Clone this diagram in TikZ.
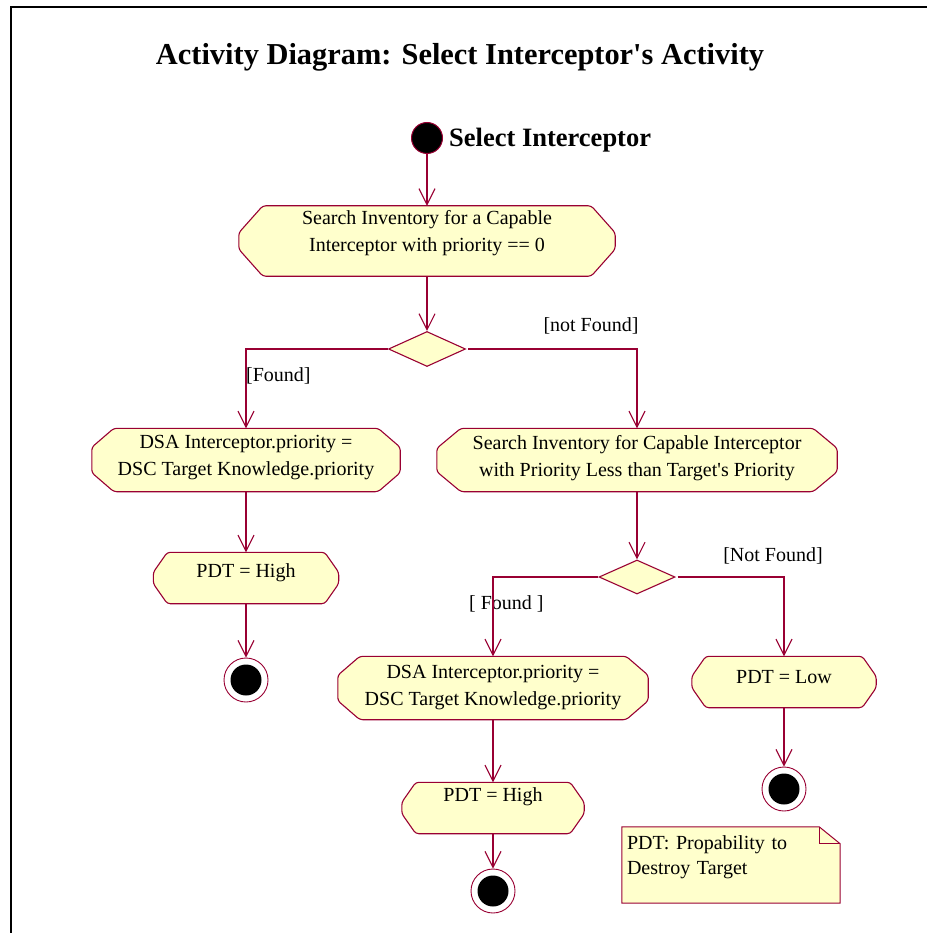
\documentclass[tikz,border=0pt]{standalone}
\usepackage{fontspec}
\setmainfont{Liberation Serif}
\usetikzlibrary{arrows.meta,shapes.geometric,backgrounds,calc}
\definecolor{umlred}{RGB}{153,0,51}
\definecolor{umlfill}{RGB}{255,255,204}

\tikzset{
  flow/.style={draw=umlred,line width=1.1pt,-{Straight Barb[length=16pt,width=16pt]}},
  actline/.style={draw=umlred,fill=umlfill,line width=1.1pt,rounded corners=3pt},
  actbox/.style={rectangle,draw=none,inner sep=0pt,align=center,
    font=\fontsize{20}{27}\selectfont},
  decision/.style={diamond,draw=umlred,fill=umlfill,line width=1.1pt,
    minimum width=77pt,minimum height=35pt,inner sep=0pt},
  startnode/.style={circle,fill=black,draw=umlred,line width=1pt,
    minimum size=31pt,inner sep=0pt},
  finalnode/.style={circle,draw=umlred,line width=0.9pt,fill=white,
    minimum size=44pt,inner sep=0pt,
    path picture={\fill[black] (path picture bounding box.center) circle (15.5pt);}},
  guard/.style={font=\fontsize{20}{24}\selectfont,inner sep=0pt},
  notebox/.style={rectangle,draw=none,inner sep=0pt,align=left,
    minimum width=218pt,minimum height=76pt,text width=208pt,
    font=\fontsize{20}{25}\selectfont}
}

\begin{document}
\begin{tikzpicture}[x=1pt,y=-1pt]
  \useasboundingbox (0,0) rectangle (926,933);

  % frame and heading
  \draw[line width=2pt] (11,940) -- (11,7) -- (940,7);
  \node[font=\fontsize{30.4}{36}\selectfont\bfseries] (title) at (460,57)
    {Activity Diagram: Select Interceptor\textquotesingle s Activity};

  % start
  \node[startnode] (start) at (427,138) {};
  \node[font=\fontsize{26.5}{30}\selectfont\bfseries,anchor=west,inner sep=0pt]
    (startlabel) at (449,140) {Select Interceptor};

  % activities
  \node[actbox,minimum width=376pt,minimum height=70pt,text depth=20pt]
    (search) at (427,241) {Search Inventory for a Capable\\Interceptor with priority == 0};
  \node[decision] (dec1) at (427,349) {};
  \node[actbox,minimum width=308pt,minimum height=63pt,text depth=9pt]
    (setpri1) at (246,460) {DSA Interceptor.priority =\\DSC Target Knowledge.priority};
  \node[actbox,minimum width=185pt,minimum height=51pt,text depth=14pt]
    (pdt1) at (246,578) {PDT = High};
  \node[finalnode] (f1) at (246,680) {};

  \node[actbox,minimum width=400pt,minimum height=63pt,text depth=9pt]
    (search2) at (637,460) {Search Inventory for Capable Interceptor\\with Priority Less than Target\textquotesingle s Priority};
  \node[decision,minimum width=76pt,minimum height=34pt] (dec2) at (637,577) {};
  \node[actbox,minimum width=310pt,minimum height=63pt,text depth=5pt]
    (setpri2) at (493,688) {DSA Interceptor.priority =\\DSC Target Knowledge.priority};
  \node[actbox,minimum width=182pt,minimum height=51pt,text depth=26pt]
    (pdt2) at (493,808) {PDT = High};
  \node[finalnode] (f2) at (493,891) {};

  \node[actbox,minimum width=184pt,minimum height=51pt,text depth=10pt]
    (pdtlow) at (784,682) {PDT = Low};
  \node[finalnode] (f3) at (784,789) {};

  % guards
  \node[guard,anchor=west] (g1) at (246,376) {[Found]};
  \node[guard] (g2) at (591,326) {[not Found]};
  \node[guard,anchor=west] (g3) at (469,604) {[ Found ]};
  \node[guard] (g4) at (773,556) {[Not Found]};

  % note
  \node[notebox,text depth=45pt] (note) at (731,865)
    {PDT: Propability to\\Destroy Target};

  \begin{scope}[on background layer]
    \fill[white] (-10,-10) rectangle (940,945);
    \foreach \n/\cx/\cy in {search/24/27,setpri1/22/19,pdt1/14/20,
        search2/24/20,setpri2/22/19,pdt2/14/20,pdtlow/14/20}
      \filldraw[actline] ($(\n.north west)+(\cx,0)$) -- ($(\n.north east)+(-\cx,0)$)
        -- ($(\n.north east)+(0,\cy)$) -- ($(\n.south east)+(0,-\cy)$)
        -- ($(\n.south east)+(-\cx,0)$) -- ($(\n.south west)+(\cx,0)$)
        -- ($(\n.south west)+(0,-\cy)$) -- ($(\n.north west)+(0,\cy)$) -- cycle;
    \filldraw[actline,line width=1pt,rounded corners=0pt] (note.north west) -- ($(note.north east)+(-21,0)$)
      -- ($(note.north east)+(0,17)$) -- (note.south east) -- (note.south west) -- cycle;
    \draw[umlred,line width=1pt] ($(note.north east)+(-21,0)$) |- ($(note.north east)+(0,17)$);
  \end{scope}

  % transitions
  \draw[flow] (start.south) -- (search.north);
  \draw[flow] (search.south) -- (dec1.north);
  \draw[flow] (dec1.west) -| (setpri1.north);
  \draw[flow,shorten <=2pt] (dec1.east) -| (search2.north);
  \draw[flow] (setpri1.south) -- (pdt1.north);
  \draw[flow] (pdt1.south) -- (f1.north);
  \draw[flow] (search2.south) -- (dec2.north);
  \draw[flow] (dec2.west) -| (setpri2.north);
  \draw[flow,shorten <=2pt] (dec2.east) -| (pdtlow.north);
  \draw[flow] (setpri2.south) -- (pdt2.north);
  \draw[flow] (pdt2.south) -- (f2.north);
  \draw[flow] (pdtlow.south) -- (f3.north);
\end{tikzpicture}
\end{document}
